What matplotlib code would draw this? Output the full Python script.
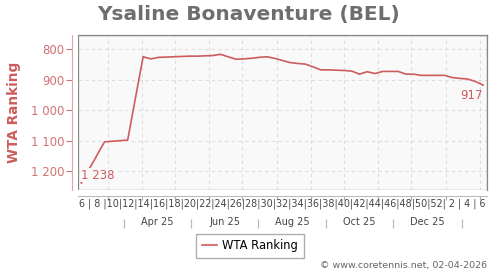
"""
Ysaline Bonaventure - WTA ranking over the last 52 weeks
"""

import matplotlib
matplotlib.use('Agg')
import matplotlib.pyplot as plt
import matplotlib.dates as mdates
import pandas as pd

plt.rcParams['font.family'] = ['DejaVu Sans']

# weekly ranking, first entry = week 6 of 2025
dates = pd.date_range('2025-02-05', periods=53, freq='7D')
ranking = [1238, 1193, 1148, 1103, 1101, 1099, 1097, 960, 824, 831,
           826, 825, 824, 823, 822, 822, 821, 820, 816, 824,
           832, 831, 829, 826, 824, 829, 836, 843, 846, 848,
           857, 867, 867, 868, 869, 871, 881, 873, 879, 872,
           872, 872, 881, 881, 885, 885, 885, 885, 892, 895,
           897, 905, 917]

week_labels = [6, 8, 10, 12, 14, 16, 18, 20, 22, 24, 26, 28, 30, 32, 34,
               36, 38, 40, 42, 44, 46, 48, 50, 52, 2, 4, 6]
month_labels = ['Apr 25', 'Jun 25', 'Aug 25', 'Oct 25', 'Dec 25']
month_dates = pd.to_datetime(['2025-04-15', '2025-06-15', '2025-08-15',
                              '2025-10-15', '2025-12-15'])
y_ticks = [800, 900, 1000, 1100, 1200]

RED = '#cd5c5c'
RED_LIGHT = '#d27272'
GREY = '#888888'

fig = plt.figure(figsize=(5, 2.7), dpi=100)
ax = fig.add_axes([0.156, 0.296, 0.818, 0.574])
ax.set_facecolor('#f9f9f9')

ax.plot(dates, ranking, color=RED, linewidth=1.2, label='WTA Ranking', zorder=3)

# axes
ax.set_xlim(dates[0] - pd.Timedelta(days=3), dates[-1] + pd.Timedelta(days=3.5))
ax.set_ylim(1261, 753)
ax.set_yticks(y_ticks)
ax.set_yticklabels([f'{v:,}'.replace(',', ' ') for v in y_ticks])
ax.tick_params(axis='y', colors=RED_LIGHT, labelsize=8.5, length=4, width=0.8, pad=2)
ax.xaxis.set_major_locator(mdates.MonthLocator())
ax.tick_params(axis='x', colors='#aaaaaa', labelbottom=False, length=3, width=0.8)
ax.grid(True, color='#dddddd', linestyle=(0, (3, 3)), linewidth=0.8)

for s in ['top', 'right']:
    ax.spines[s].set_color(GREY)
    ax.spines[s].set_linewidth(0.9)
ax.spines['left'].set_position(('outward', 4))
ax.spines['left'].set_color('#e0a8a8')
ax.spines['bottom'].set_position(('outward', 4))
ax.spines['bottom'].set_color('#bbbbbb')
# plot frame
frame = plt.Rectangle((0, 0), 1, 1, transform=ax.transAxes, fill=False,
                      edgecolor=GREY, linewidth=0.9, zorder=4)
ax.add_patch(frame)

ax.set_ylabel('WTA Ranking', color=RED, fontsize=9.8, fontweight='bold')
ax.yaxis.set_label_coords(-0.140, 0.5)

# first / last value labels
ax.annotate(f'{ranking[0]:,}'.replace(',', ' '), (dates[0], ranking[0]),
            xytext=(0, 1), textcoords='offset points', ha='left', va='bottom',
            color=RED, fontsize=8.5,
            bbox=dict(facecolor='#f9f9f9', edgecolor='none', pad=0.5), zorder=5)
ax.annotate(str(ranking[-1]), (dates[-1], ranking[-1]),
            xytext=(0, -3), textcoords='offset points', ha='right', va='top',
            color=RED, fontsize=8.5, zorder=5)

# week number row
week_row = '|'.join(f' {w} ' if w < 10 else str(w) for w in week_labels)
fig.text(0.565, 0.2456, week_row, ha='center', va='center', fontsize=6.9,
         color='#444444')

# month row with separators
trans = ax.get_xaxis_transform()
for d, lab in zip(month_dates, month_labels):
    ax.text(d, -0.205, lab, transform=trans, ha='center', va='center',
            fontsize=7, color='#444444', clip_on=False)
seps = list(month_dates - pd.Timedelta(days=30.5)) + [month_dates[-1] + pd.Timedelta(days=31.5)]
ax.vlines(seps, -0.187, -0.245, transform=trans, colors='#bbbbbb',
          linewidth=0.9, clip_on=False)

fig.text(0.498, 0.948, 'Ysaline Bonaventure (BEL)', ha='center', va='center',
         fontsize=14.5, fontweight='bold', color='#6e6e6e')

fig.legend(loc='center', bbox_to_anchor=(0.5, 0.089), fontsize=8.3,
           frameon=True, fancybox=False, edgecolor='#999999',
           handlelength=1.3, borderpad=0.5, handletextpad=0.5)

fig.text(0.974, 0.016, '\u00a9 www.coretennis.net, 02-04-2026', ha='right',
         va='center', fontsize=6.8, color='#666666')

fig.savefig('out.png', dpi=100)
